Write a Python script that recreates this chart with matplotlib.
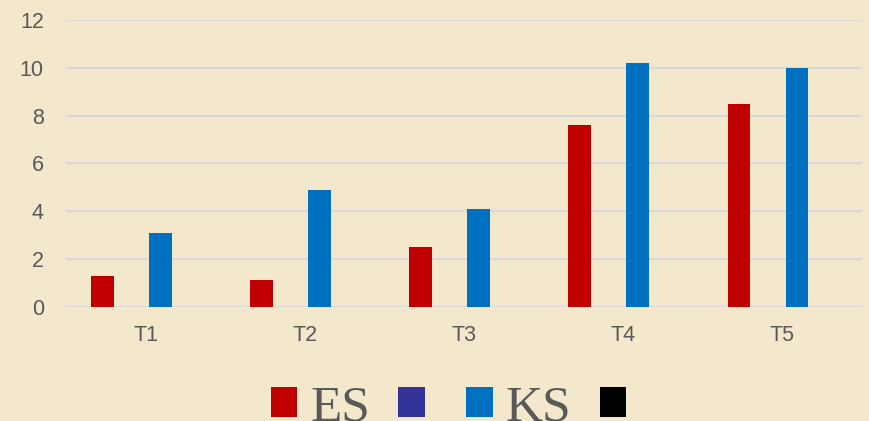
import numpy as np
import matplotlib
matplotlib.use("Agg")
import matplotlib.pyplot as plt
from matplotlib.patches import Patch

categories = ["T1", "T2", "T3", "T4", "T5"]
es_values = [1.3, 1.1, 2.5, 7.6, 8.5]
blank1_values = [0, 0, 0, 0, 0]
ks_values = [3.1, 4.9, 4.1, 10.2, 10.0]
blank2_values = [0, 0, 0, 0, 0]
series_names = ["ES", "", "KS", ""]
series_colors = ["#C00000", "#333399", "#0070C0", "#000000"]
yticks = [0, 2, 4, 6, 8, 10, 12]

bg = "#F3E8CC"
text_gray = "#595959"

fig = plt.figure(figsize=(8.7, 4.21), dpi=100, facecolor=bg)
ax = fig.add_axes([0.0759, 0.2715, 0.915, 0.681])
ax.set_facecolor(bg)

x = np.arange(len(categories))
slot = 0.182
width = 0.144
all_series = [es_values, blank1_values, ks_values, blank2_values]
for i, (vals, col) in enumerate(zip(all_series, series_colors)):
    ax.bar(x + (i - 1.5) * slot, vals, width=width, color=col, zorder=3)

ax.set_xlim(-0.5, len(categories) - 0.5)
ax.set_ylim(0, 12)
ax.set_yticks(yticks)
ax.set_xticks(x)
ax.set_xticklabels(categories)
ax.yaxis.grid(True, color="#D9D9D9", linewidth=1.5, zorder=0)
ax.set_axisbelow(True)
for sp in ax.spines.values():
    sp.set_visible(False)
ax.tick_params(axis="both", length=0, labelsize=15.5, labelcolor=text_gray,
               labelfontfamily="Liberation Sans")
ax.tick_params(axis="x", pad=13)
ax.tick_params(axis="y", pad=16)

handles = [Patch(facecolor=c, edgecolor="none") for c in series_colors]
fig.legend(handles, series_names, loc="center", ncol=4,
           bbox_to_anchor=(455 / 870, 1 - 408 / 421), frameon=False,
           prop={"family": "Liberation Serif", "size": 37},
           labelcolor=text_gray, handlelength=0.52, handleheight=0.52,
           handletextpad=0.25, columnspacing=0.55, borderpad=0)

fig.savefig("out.png", dpi=100, facecolor=bg)
